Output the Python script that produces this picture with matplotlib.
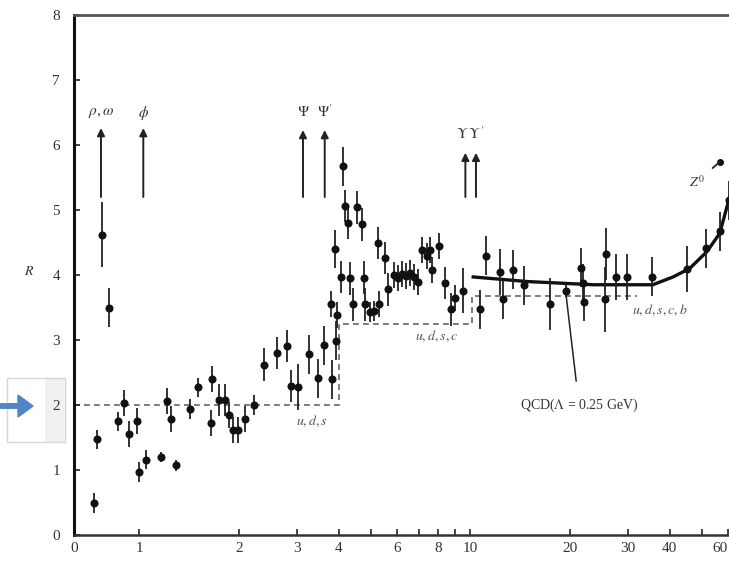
import matplotlib
matplotlib.use("Agg")
import matplotlib.pyplot as plt
from matplotlib.patches import Rectangle, FancyArrow

plt.rcParams['font.family'] = ['Liberation Serif', 'DejaVu Serif']
plt.rcParams['mathtext.fontset'] = 'stix'

# ---------------- data ----------------
# measured R points: sqrt(s) [GeV], R, error
pt_x = [0.729, 0.742, 0.769, 0.810, 0.859, 0.900, 0.932, 0.981, 0.999, 1.046,
        1.161, 1.208, 1.245, 1.286, 1.421, 1.499, 1.660, 1.650, 1.739, 1.813,
        1.867, 1.920, 1.981, 2.083, 2.223, 2.383, 2.597, 2.796, 2.862, 3.019,
        3.258, 3.454, 3.617, 3.808, 3.924, 3.781, 3.950, 3.896, 4.062, 4.128,
        4.177, 4.274, 4.325, 4.406, 4.530, 4.691, 4.767, 4.800, 4.969, 5.109,
        5.290, 5.265, 5.517, 5.634, 5.874, 6.039, 6.209, 6.385, 6.565, 6.750,
        6.930, 7.122, 7.374, 7.545, 7.679, 8.052, 8.356, 8.762, 8.978, 9.471,
        10.72, 11.14, 12.28, 12.57, 13.47, 14.51, 17.39, 19.44, 21.6, 21.9,
        22.1, 25.49, 25.79, 27.65, 29.77, 35.52, 45.32, 51.72, 56.73, 60.4]
pt_r = [0.49, 1.47, 4.62, 3.50, 1.75, 2.03, 1.55, 1.75, 0.97, 1.16,
        1.20, 2.06, 1.78, 1.07, 1.94, 2.27, 2.40, 1.73, 2.08, 2.08,
        1.85, 1.62, 1.62, 1.78, 2.00, 2.62, 2.80, 2.91, 2.29, 2.28,
        2.78, 2.41, 2.92, 2.40, 2.99, 3.55, 3.38, 4.40, 3.97, 5.67,
        5.06, 4.80, 3.95, 3.55, 5.04, 4.78, 3.96, 3.55, 3.43, 3.45,
        3.55, 4.49, 4.26, 3.78, 4.00, 3.95, 4.02, 3.98, 4.03, 3.97,
        3.89, 4.38, 4.30, 4.38, 4.07, 4.44, 3.88, 3.47, 3.65, 3.76,
        3.47, 4.30, 4.05, 3.63, 4.08, 3.84, 3.56, 3.76, 4.11, 3.87,
        3.59, 3.63, 4.32, 3.97, 3.97, 3.97, 4.09, 4.41, 4.67, 5.15]
pt_err = [0.15, 0.15, 0.50, 0.30, 0.15, 0.20, 0.20, 0.20, 0.15, 0.15,
          0.08, 0.20, 0.20, 0.08, 0.15, 0.15, 0.20, 0.20, 0.25, 0.25,
          0.20, 0.20, 0.20, 0.20, 0.15, 0.25, 0.25, 0.25, 0.25, 0.35,
          0.30, 0.30, 0.30, 0.30, 0.30, 0.20, 0.20, 0.30, 0.25, 0.30,
          0.25, 0.25, 0.25, 0.25, 0.25, 0.25, 0.25, 0.25, 0.15, 0.15,
          0.20, 0.25, 0.25, 0.25, 0.20, 0.20, 0.20, 0.20, 0.20, 0.20,
          0.20, 0.20, 0.20, 0.20, 0.20, 0.20, 0.25, 0.25, 0.20, 0.35,
          0.30, 0.30, 0.35, 0.30, 0.30, 0.30, 0.40, 0.10, 0.30, 0.30,
          0.30, 0.50, 0.40, 0.35, 0.35, 0.30, 0.35, 0.30, 0.30, 0.30]

# QCD prediction curve
qcd_x = [10.2, 14.8, 23.5, 35.6, 41.0, 46.0, 51.9, 56.7, 60.4]
qcd_r = [3.97, 3.90, 3.85, 3.85, 3.97, 4.10, 4.36, 4.64, 5.15]

# quark-parton model steps
qpm_x = [0.634, 4.02, 4.02, 10.1, 10.1, 32.0]
qpm_r = [2.00, 2.00, 3.25, 3.25, 3.67, 3.67]
qpm_labels = ['$u, d, s$', '$u, d, s, c$', '$u, d, s, c, b$']
qpm_lab_x = [3.32, 7.92, 37.4]
qpm_lab_r = [1.75, 3.05, 3.46]

# resonance arrows
res_x = [0.765, 1.027, 3.12, 3.63, 9.66, 10.4]
res_top = [6.26, 6.26, 6.23, 6.23, 5.88, 5.88]
res_bottom = [5.20, 5.20, 5.20, 5.20, 5.20, 5.20]
# resonance labels
res_names = [r'$\rho, \omega$', r'$\phi$', r'$\Psi$', r"$\Psi'$", r"$\Upsilon\,\Upsilon'$"]
res_lab_x = [0.765, 1.027, 3.12, 3.63, 10.0]
res_lab_r = [6.49, 6.49, 6.51, 6.51, 6.18]

x_ticks = [0.634, 1, 2, 3, 4, 5, 6, 7, 8, 9, 10, 20, 30, 40, 50, 60]
x_ticklabels = ['0', '1', '2', '3', '4', '', '6', '', '8', '', '10', '20', '30', '40', '', '60']
y_ticks = [0, 1, 2, 3, 4, 5, 6, 7, 8]

# ---------------- figure ----------------
W, H = 729, 563
fig = plt.figure(figsize=(W / 100, H / 100), dpi=100)
ax = fig.add_axes([74 / W, 28 / H, 655 / W, 520 / H])
ax.set_facecolor('none')
ax.set_xscale('log')
ax.set_xlim(0.634, 60.5)
ax.set_ylim(0, 8)

ax.set_xticks(x_ticks)
ax.set_xticklabels(x_ticklabels)
ax.xaxis.set_minor_locator(matplotlib.ticker.NullLocator())
ax.set_yticks(y_ticks)
ax.set_yticklabels([str(v) for v in y_ticks])
ax.tick_params(direction='in', length=4, width=1.2, labelsize=11, colors='#222222',
               labelcolor='#333333')
ax.tick_params(axis='y', pad=10)
ax.tick_params(axis='x', pad=5)
for lbl in ax.get_xticklabels():
    if lbl.get_text() == '60':
        lbl.set_horizontalalignment('right')

ax.spines['right'].set_visible(False)
ax.spines['left'].set_linewidth(2.2)
ax.spines['left'].set_color('#111111')
ax.spines['bottom'].set_linewidth(1.8)
ax.spines['bottom'].set_color('#333333')
ax.spines['top'].set_linewidth(2.0)
ax.spines['top'].set_color('#555555')

ax.set_ylabel('$R$', rotation=0, fontsize=10, color='#333333')
ax.yaxis.set_label_coords(-0.068, 0.495)

# quark-parton model dashed steps
ax.plot(qpm_x, qpm_r, ls=(0, (3.5, 2.5)), color='#666666', lw=1.2, zorder=1)
for t, xx, rr in zip(qpm_labels, qpm_lab_x, qpm_lab_r):
    ax.text(xx, rr, t, ha='center', va='center', fontsize=10, color='#555555')

# QCD curve
ax.plot(qcd_x, qcd_r, color='#111111', lw=2.4, zorder=2, clip_on=True)

# data points
ax.errorbar(pt_x, pt_r, yerr=pt_err, fmt='o', ms=4.8, color='#111111',
            ecolor='#222222', elinewidth=1.3, capsize=0, zorder=3, clip_on=True)

# resonance arrows
for xx, top, bot in zip(res_x, res_top, res_bottom):
    ax.annotate('', xy=(xx, top), xytext=(xx, bot),
                arrowprops=dict(arrowstyle='-|>', color='#222222', lw=1.4,
                                mutation_scale=11, shrinkA=0, shrinkB=0))
for name, xx, lr in zip(res_names, res_lab_x, res_lab_r):
    ax.text(xx, lr, name, ha='center', va='center', fontsize=11, color='#333333')

# QCD annotation
ax.annotate(r'QCD($\Lambda$ = 0.25 GeV)', xy=(19.44, 3.72), xytext=(21.3, 2.0),
            ha='center', va='center', fontsize=10, color='#333333',
            arrowprops=dict(arrowstyle='-', color='#222222', lw=1.1,
                            shrinkA=9, shrinkB=0))

# Z0 annotation
ax.annotate(r'$Z^0$', xy=(56.7, 5.74), xytext=(48.3, 5.43),
            ha='center', va='center', fontsize=10, color='#333333',
            arrowprops=dict(arrowstyle='-', color='#222222', lw=1.3,
                            shrinkA=5, shrinkB=0))
ax.plot([56.7], [5.74], 'o', ms=4, color='#111111')

# highlight overlay around the "2" tick label
fig.add_artist(Rectangle((45 / W, 1 - 442 / H), 19 / W, 64 / H,
                         transform=fig.transFigure, facecolor='#f0f0f0',
                         edgecolor='none', zorder=-2))
fig.add_artist(Rectangle((7 / W, 1 - 442 / H), 58 / W, 64 / H,
                         transform=fig.transFigure, facecolor='none',
                         edgecolor='#d6d6d6', lw=1.0, zorder=-1))
fig.add_artist(FancyArrow(0, 1 - 406 / H, 33 / W, 0, width=4.5 / H,
                          head_width=22 / H, head_length=15 / W,
                          length_includes_head=True, transform=fig.transFigure,
                          color='#4f86c6', zorder=5))

fig.savefig('out.png', dpi=100)
